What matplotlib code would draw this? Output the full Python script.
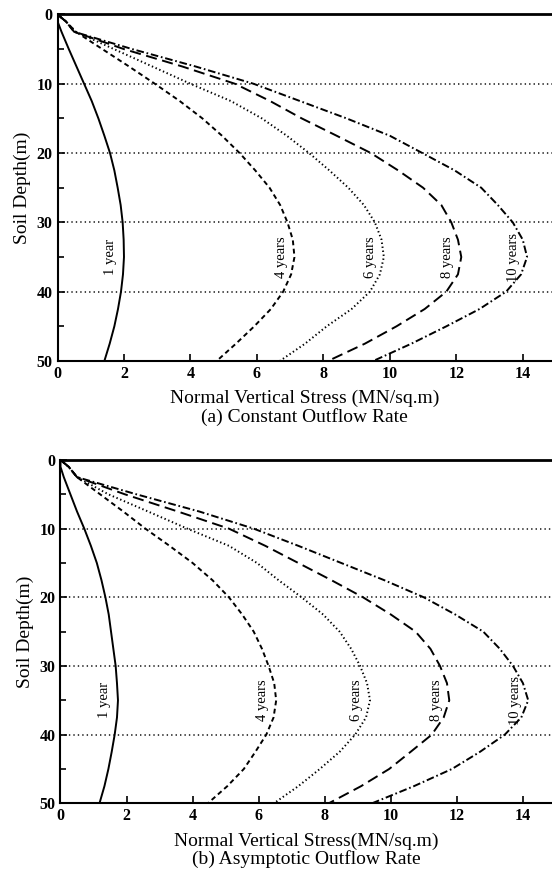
import numpy as np
import matplotlib
matplotlib.use("Agg")
import matplotlib.pyplot as plt

plt.rcParams['font.family'] = ['Liberation Serif', 'DejaVu Serif']
plt.rcParams['lines.scale_dashes'] = False

# depth (m) shared by every curve
depth = [0, 1, 2.5, 5, 7.5, 10, 12.5, 15, 17.5, 20, 22.5, 25, 27.5, 30,
         32.5, 35, 37.5, 40, 42.5, 45, 47.5, 50]

years = ["1 year", "4 years", "6 years", "8 years", "10 years"]

# (a) constant outflow rate, stress in MN/sq.m
a_1yr = [0, 0.0, 0.12, 0.34, 0.57, 0.80, 1.03, 1.23, 1.41, 1.58, 1.71, 1.81,
         1.90, 1.96, 1.99, 2.00, 1.97, 1.91, 1.82, 1.71, 1.57, 1.41]
a_4yr = [0, 0.25, 0.55, 1.35, 2.15, 2.93, 3.68, 4.36, 4.95, 5.48, 5.95, 6.38,
         6.70, 6.92, 7.08, 7.13, 7.03, 6.79, 6.42, 5.92, 5.37, 4.79]
a_6yr = [0, 0.25, 0.55, 1.70, 2.85, 4.00, 5.22, 6.15, 6.90, 7.57, 8.18, 8.75,
         9.22, 9.55, 9.75, 9.82, 9.70, 9.40, 8.85, 8.10, 7.45, 6.69]
a_8yr = [0, 0.25, 0.50, 2.00, 3.75, 5.34, 6.40, 7.35, 8.40, 9.43, 10.25, 11.00,
         11.55, 11.85, 12.05, 12.15, 12.05, 11.70, 11.05, 10.20, 9.25, 8.14]
a_10yr = [0, 0.25, 0.50, 2.25, 4.15, 5.90, 7.30, 8.70, 10.00, 10.98, 11.95, 12.75,
          13.25, 13.70, 14.00, 14.13, 13.95, 13.50, 12.70, 11.70, 10.65, 9.50]

# (b) asymptotic outflow rate
b_1yr = [0, 0.0, 0.10, 0.30, 0.50, 0.72, 0.92, 1.10, 1.24, 1.36, 1.46, 1.53,
         1.60, 1.67, 1.71, 1.74, 1.71, 1.64, 1.55, 1.45, 1.33, 1.18]
b_4yr = [0, 0.25, 0.50, 1.20, 1.90, 2.57, 3.30, 4.00, 4.60, 5.10, 5.50, 5.85,
         6.10, 6.30, 6.47, 6.53, 6.45, 6.23, 5.90, 5.55, 5.05, 4.46]
b_6yr = [0, 0.25, 0.50, 1.45, 2.65, 3.84, 5.10, 5.95, 6.60, 7.30, 7.95, 8.45,
         8.80, 9.07, 9.28, 9.37, 9.25, 8.92, 8.45, 7.85, 7.20, 6.46]
b_8yr = [0, 0.25, 0.50, 1.95, 3.55, 5.10, 6.20, 7.20, 8.20, 9.16, 10.00, 10.75,
         11.20, 11.49, 11.70, 11.77, 11.60, 11.24, 10.60, 9.95, 9.10, 8.12]
b_10yr = [0, 0.25, 0.50, 2.30, 4.20, 5.85, 7.20, 8.50, 9.80, 11.00, 11.95, 12.80,
          13.30, 13.70, 14.00, 14.16, 13.95, 13.45, 12.70, 11.85, 10.70, 9.43]

styles = ['-', (0, (3.5, 2.5)), (0, (1, 1.9)), (0, (8, 4)), (0, (5.5, 2, 1.2, 2))]


def panel(ax, curves, xlabel, caption):
    for vals, ls, name in zip(curves, styles, years):
        ax.plot(vals, depth, color='black', lw=1.4, linestyle=ls)
        i = int(np.argmax(vals))
        ax.text(vals[i] - 0.4, depth[i], name, rotation=90, ha='center',
                va='center', fontsize=10.5)

    ax.set_xlim(0, 14.88)
    ax.set_ylim(50, 0)
    ax.set_xticks(np.arange(0, 15, 2))
    ax.set_yticks(np.arange(0, 51, 10))
    ax.set_yticks(np.arange(5, 50, 10), minor=True)
    ax.tick_params(direction='in', length=5, width=1.2, labelsize=11.5, pad=3.5)
    ax.tick_params(which='minor', direction='in', length=4, width=1.2)
    for lab in ax.get_xticklabels() + ax.get_yticklabels():
        lab.set_fontweight('bold')

    # dotted horizontal guides
    for y in [10, 20, 30, 40]:
        ax.axhline(y, color='#444444', lw=1.4, linestyle=(0, (1, 2.2)), zorder=0)

    ax.spines['right'].set_visible(False)
    ax.spines['top'].set_linewidth(2.0)
    ax.spines['left'].set_linewidth(1.5)
    ax.spines['bottom'].set_linewidth(1.5)

    ax.set_ylabel("Soil Depth(m)", fontsize=14, labelpad=4)
    ax.set_xlabel(xlabel + "\n" + caption, fontsize=14, labelpad=6,
                  linespacing=1.05)


fig = plt.figure(figsize=(5.52, 8.77), dpi=100)
ax1 = fig.add_axes([0.1042, 0.5884, 0.8958, 0.3951])
ax2 = fig.add_axes([0.1096, 0.0840, 0.8904, 0.3915])

panel(ax1, [a_1yr, a_4yr, a_6yr, a_8yr, a_10yr],
      "Normal Vertical Stress (MN/sq.m)", "(a) Constant Outflow Rate")
panel(ax2, [b_1yr, b_4yr, b_6yr, b_8yr, b_10yr],
      "Normal Vertical Stress(MN/sq.m)", "(b) Asymptotic Outflow Rate")

fig.savefig("out.png", dpi=100)
